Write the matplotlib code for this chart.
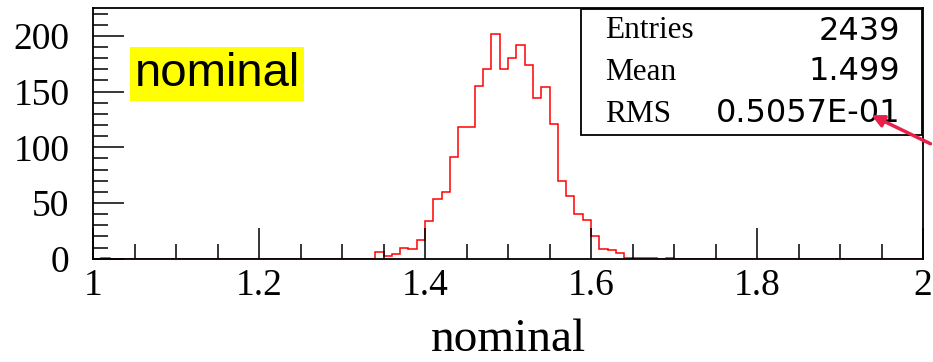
import numpy as np
import matplotlib
matplotlib.use("Agg")
import matplotlib.pyplot as plt
from matplotlib.ticker import MultipleLocator

# histogram: 100 bins from 1 to 2, only the filled bins listed
x_min, x_max, n_bins = 1.0, 2.0, 100
bin_low = [1.01, 1.34, 1.35, 1.36, 1.37, 1.38, 1.39, 1.40, 1.41, 1.42, 1.43,
           1.44, 1.45, 1.46, 1.47, 1.48, 1.49, 1.50, 1.51, 1.52, 1.53, 1.54,
           1.55, 1.56, 1.57, 1.58, 1.59, 1.60, 1.61, 1.62, 1.63, 1.64, 1.65,
           1.66, 1.67, 1.69]
counts = [1, 6, 2, 4, 10, 9, 17, 34, 54, 60, 91,
          118, 118, 155, 170, 202, 170, 180, 192, 174, 144, 154,
          121, 70, 56, 40, 35, 20, 9, 8, 5, 1, 1,
          1, 1, 1]

stat_names = ["Entries", "Mean", "RMS"]
stat_values = ["2439", "1.499", "0.5057E-01"]

edges = np.linspace(x_min, x_max, n_bins + 1)
h = np.zeros(n_bins)
for lo, c in zip(bin_low, counts):
    h[int(round((lo - x_min) / (x_max - x_min) * n_bins))] = c

fig = plt.figure(figsize=(9.33, 3.62), dpi=100)
ax = fig.add_axes([0.0997, 0.2854, 0.8896, 0.6926])

ax.stairs(h, edges, color="red", linewidth=1.1)

ax.set_xlim(x_min, x_max)
ax.set_ylim(0, 225)
ax.xaxis.set_major_locator(MultipleLocator(0.2))
ax.xaxis.set_minor_locator(MultipleLocator(0.05))
ax.yaxis.set_major_locator(MultipleLocator(50))
ax.yaxis.set_minor_locator(MultipleLocator(10))
ax.xaxis.set_major_formatter(plt.FuncFormatter(lambda v, p: "%g" % v))
ax.tick_params(which="both", direction="in", top=False, right=False, width=1.1,
               labelsize=27, color="black")
ax.tick_params(which="major", length=22)
ax.tick_params(which="minor", length=11)
ax.tick_params(axis="x", pad=7)
ax.tick_params(axis="y", pad=17)
for lab in ax.get_xticklabels() + ax.get_yticklabels():
    lab.set_family("Liberation Serif")
for s in ax.spines.values():
    s.set_linewidth(1.3)

ax.set_xlabel("nominal", family="Liberation Serif", fontsize=34, labelpad=11)

# yellow label
ax.text(0.05, 0.737, "nominal", transform=ax.transAxes, family="Liberation Sans",
        fontsize=34, va="center", ha="left",
        bbox=dict(boxstyle="square,pad=0.1", facecolor="yellow", edgecolor="none"))

# stats box
box = plt.Rectangle((581 / 933, 1 - 135 / 362), (922 - 581) / 933, (135 - 9) / 362,
                    transform=fig.transFigure, facecolor="white", edgecolor="black",
                    linewidth=1.3, zorder=5)
fig.patches.append(box)
rows_y = [31, 72, 114]
for name, val, yy in zip(stat_names, stat_values, rows_y):
    fig.text(605 / 933, 1 - yy / 362, name, family="Liberation Serif", fontsize=22.5,
             va="center", ha="left", zorder=6)
    fig.text(900 / 933, 1 - yy / 362, val, family="DejaVu Sans", fontsize=23,
             va="center", ha="right", zorder=6)

# red arrow pointing at the RMS value
fig.patches.append(matplotlib.patches.FancyArrowPatch(
    (933 / 933, 1 - 145 / 362), (869 / 933, 1 - 114 / 362), transform=fig.transFigure,
    arrowstyle="-|>", mutation_scale=18, color="#e8204a", linewidth=2.5, zorder=7))

fig.savefig("out.png", dpi=100)
